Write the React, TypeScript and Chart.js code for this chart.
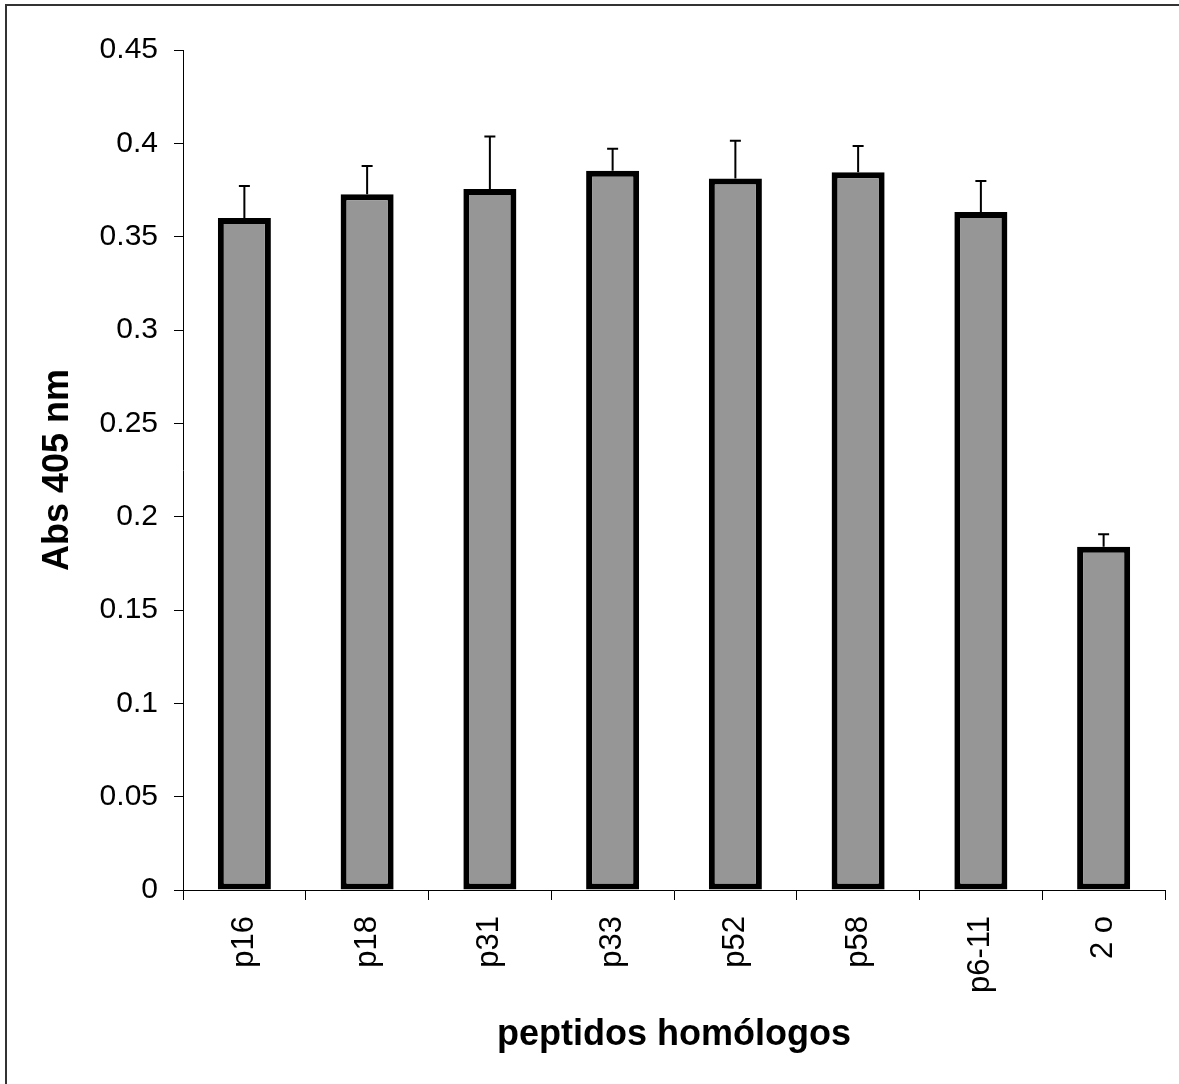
import React, { useEffect, useRef } from "react";
import { Chart, registerables } from "chart.js";

Chart.register(...registerables);

const categories = ["p16", "p18", "p31", "p33", "p52", "p58", "p6-11", "2 o"];
const absValues = [0.36, 0.3727, 0.3755, 0.3853, 0.3811, 0.3845, 0.3632, 0.1839];
const absErrors = [0.0171, 0.0152, 0.0281, 0.0118, 0.0203, 0.0141, 0.0166, 0.0067];
const yTickLabels = ["0", "0.05", "0.1", "0.15", "0.2", "0.25", "0.3", "0.35", "0.4", "0.45"];
const yTitle = "Abs 405 nm";
const xTitle = "peptidos homólogos";

const FONT = "'Liberation Sans', Arial, sans-serif";

const errorBarPlugin = {
  id: "errorBars",
  afterDatasetsDraw(chart: any) {
    const meta = chart.getDatasetMeta(0);
    const yScale = chart.scales.y;
    const ctx = chart.ctx;
    ctx.save();
    ctx.strokeStyle = "#000";
    ctx.lineWidth = 2;
    meta.data.forEach((bar: any, i: number) => {
      const v = absValues[i];
      const e = absErrors[i];
      const x = bar.x;
      const y0 = yScale.getPixelForValue(v);
      const y1 = yScale.getPixelForValue(v + e);
      ctx.beginPath();
      ctx.moveTo(x, y0);
      ctx.lineTo(x, y1);
      ctx.moveTo(x - 5.5, y1);
      ctx.lineTo(x + 5.5, y1);
      ctx.stroke();
    });
    ctx.restore();
  },
};

export default function App() {
  const ref = useRef<HTMLCanvasElement | null>(null);

  useEffect(() => {
    if (!ref.current) return;
    const chart = new Chart(ref.current, {
      type: "bar",
      data: {
        labels: categories,
        datasets: [
          {
            data: absValues,
            backgroundColor: "#969696",
            borderColor: "#000000",
            borderWidth: 6,
            borderSkipped: false,
            categoryPercentage: 1,
            barPercentage: 0.432,
          },
        ],
      },
      options: {
        animation: false,
        responsive: false,
        maintainAspectRatio: false,
        layout: { padding: { top: 50, right: 14, left: 0, bottom: 0 } },
        plugins: {
          legend: { display: false },
          tooltip: { enabled: false },
        },
        scales: {
          x: {
            offset: true,
            grid: {
              offset: true,
              drawOnChartArea: false,
              drawTicks: true,
              tickLength: 10,
              color: "#000",
              lineWidth: 1,
            },
            border: { display: true, color: "#000", width: 1 },
            ticks: {
              autoSkip: false,
              minRotation: 90,
              maxRotation: 90,
              padding: 16,
              color: "#000",
              font: { family: FONT, size: 31 },
            },
            title: {
              display: true,
              text: xTitle,
              color: "#000",
              font: { family: FONT, size: 36, weight: "bold" },
              padding: { top: 0, bottom: 27 },
            },
            afterFit(scale: any) {
              scale.height = 194;
            },
          },
          y: {
            min: 0,
            max: 0.45,
            grid: {
              drawOnChartArea: false,
              drawTicks: true,
              tickLength: 9,
              color: "#000",
              lineWidth: 1,
            },
            border: { display: true, color: "#000", width: 1 },
            ticks: {
              stepSize: 0.05,
              padding: 16,
              color: "#000",
              font: { family: FONT, size: 30 },
              callback: (_v: any, i: number) => yTickLabels[i],
            },
            title: {
              display: true,
              text: yTitle,
              color: "#000",
              font: { family: FONT, size: 36, weight: "bold" },
              padding: { top: 36, bottom: 0 },
            },
            afterFit(scale: any) {
              scale.width = 183;
            },
          },
        },
      },
      plugins: [errorBarPlugin],
    });
    return () => chart.destroy();
  }, []);

  return (
    <div style={{ position: "absolute", left: 0, top: 0, width: 1179, height: 1084, background: "#fff", overflow: "hidden" }}>
      <canvas ref={ref} width={1179} height={1084} style={{ display: "block", width: 1179, height: 1084 }} />
      <div
        style={{
          position: "absolute",
          left: 5,
          top: 4,
          width: 1200,
          height: 1200,
          borderLeft: "2px solid #333",
          borderTop: "2px solid #333",
          pointerEvents: "none",
        }}
      />
    </div>
  );
}
